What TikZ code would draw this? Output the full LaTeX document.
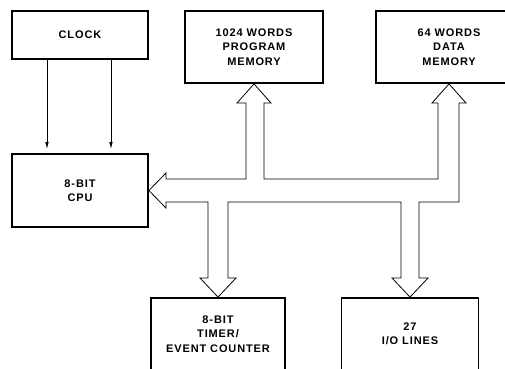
\documentclass[tikz,border=0pt]{standalone}
\usepackage{fontspec}
\usetikzlibrary{arrows.meta}
\newfontfamily\boxfont{Liberation Sans}[LetterSpace=8]

\begin{document}
\begin{tikzpicture}
[
	x=1pt,
	y=-1pt,
	block/.style={draw,line width=1.8pt,align=center,inner sep=0pt,font=\boxfont\bfseries\fontsize{11}{14.5}\selectfont},
	bus/.style={line width=0.8pt,line join=miter},
	clk/.style={line width=0.8pt,-{Latex[length=7pt,width=3.5pt]},shorten >=4pt}
]
	\useasboundingbox (0,0) rectangle (505,368);
	\clip (0,0) rectangle (505,368);

	% boxes
	\node[block,minimum width=136pt,minimum height=48pt] at (80,35) (clock) {CLOCK};
	\node[block,minimum width=136pt,minimum height=73pt] at (80,190.5) (cpu) {8-BIT\\CPU};
	\node[block,minimum width=138pt,minimum height=72pt] at (254,47) (prog) {1024 WORDS\\PROGRAM\\MEMORY};
	\node[block,minimum width=146pt,minimum height=72pt] at (449,47) (data) {64 WORDS\\DATA\\MEMORY};
	\node[block,minimum width=134pt,minimum height=72pt] at (218,334) (timer) {8-BIT\\TIMER/\\EVENT COUNTER};
	\node[block,minimum width=137pt,minimum height=72pt] at (410,334) (io) {27\\I/O LINES};

	% clock lines
	\draw[clk] ([xshift=-33pt]clock.south) -- ([xshift=-33pt]cpu.north);
	\draw[clk] ([xshift=31pt]clock.south) -- ([xshift=31pt]cpu.north);

	% bus
	\draw[bus] (246,179) -- (166,179) -- (166,173) -- (cpu.east) -- (166,208) -- (166,202)
		-- (208,202) -- (208,278) -- (200,278) -- (timer.north) -- (236,278) -- (228,278) -- (228,202)
		-- (401,202) -- (401,278) -- (392,278) -- (io.north) -- (428,278) -- (419,278) -- (419,202)
		-- (459,202) -- (459,103) -- (466,103) -- (data.south) -- (432,103) -- (438,103) -- (438,179)
		-- (264,179) -- (264,103) -- (271,103) -- (prog.south) -- (237,103) -- (246,103) -- cycle;

\end{tikzpicture}
\end{document}
